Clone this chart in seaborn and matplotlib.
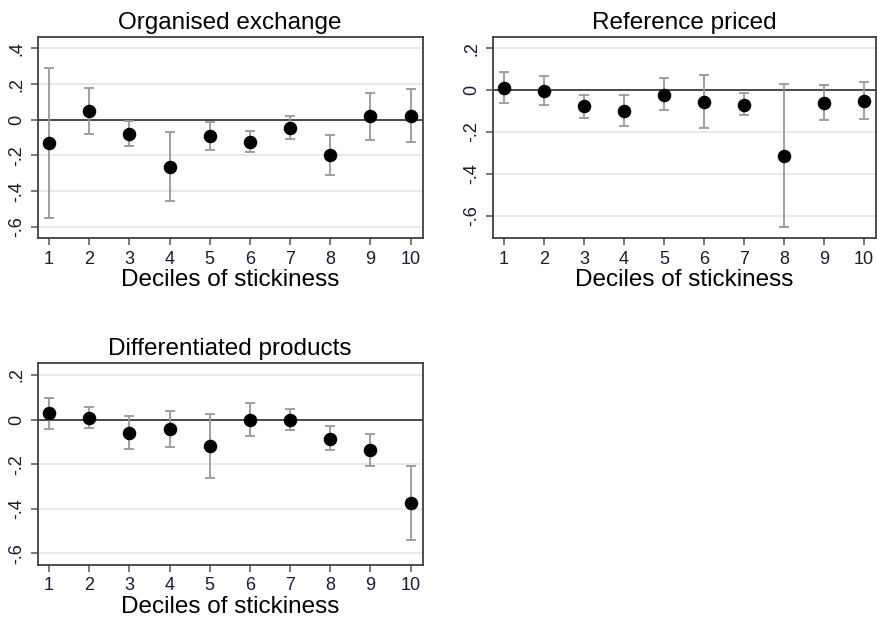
import numpy as np
import pandas as pd
import matplotlib
matplotlib.use("Agg")
import matplotlib.pyplot as plt
import seaborn as sns

deciles = list(range(1, 11))

org_est = [-0.131, 0.049, -0.078, -0.263, -0.093, -0.123, -0.045, -0.198, 0.019, 0.024]
org_hi = [0.29, 0.181, -0.007, -0.071, -0.011, -0.065, 0.021, -0.088, 0.153, 0.172]
org_lo = [-0.551, -0.078, -0.148, -0.456, -0.172, -0.181, -0.108, -0.308, -0.116, -0.125]

ref_est = [0.011, -0.002, -0.078, -0.099, -0.022, -0.057, -0.069, -0.315, -0.061, -0.051]
ref_hi = [0.088, 0.069, -0.021, -0.024, 0.057, 0.072, -0.016, 0.030, 0.024, 0.038]
ref_lo = [-0.061, -0.072, -0.133, -0.172, -0.097, -0.182, -0.118, -0.656, -0.142, -0.139]

dif_est = [0.028, 0.009, -0.061, -0.043, -0.119, -0.001, -0.001, -0.085, -0.137, -0.375]
dif_hi = [0.097, 0.058, 0.015, 0.039, 0.027, 0.073, 0.046, -0.028, -0.066, -0.210]
dif_lo = [-0.042, -0.039, -0.131, -0.124, -0.264, -0.072, -0.046, -0.137, -0.209, -0.539]

titles = ["Organised exchange", "Reference priced", "Differentiated products"]
xlabel = "Deciles of stickiness"
yticks_org = [-0.6, -0.4, -0.2, 0, 0.2, 0.4]
yticks_other = [-0.6, -0.4, -0.2, 0, 0.2]

sns.set_style("white")
plt.rcParams['font.family'] = ['Liberation Sans', 'DejaVu Sans']

fig = plt.figure(figsize=(8.77, 6.2), dpi=100)
ax1 = fig.add_axes([0.043, 0.616, 0.439, 0.324])
ax2 = fig.add_axes([0.5618, 0.616, 0.4372, 0.324])
ax3 = fig.add_axes([0.043, 0.089, 0.439, 0.325])

def fmt(v):
    if abs(v) < 1e-9:
        return "0"
    s = f"{v:.1f}"
    return s.replace("0.", ".")

panels = [
    (ax1, org_est, org_lo, org_hi, titles[0], yticks_org, (-0.663, 0.463)),
    (ax2, ref_est, ref_lo, ref_hi, titles[1], yticks_other, (-0.707, 0.253)),
    (ax3, dif_est, dif_lo, dif_hi, titles[2], yticks_other, (-0.651, 0.252)),
]

for ax, est, lo, hi, title, yt, ylim in panels:
    df = pd.DataFrame({"decile": deciles, "est": est, "lo": lo, "hi": hi})
    for t in yt:
        if t != 0:
            ax.axhline(t, color="#e6e6e6", lw=1.3, zorder=0)
    ax.axhline(0, color="#3a3a3a", lw=1.3, zorder=1)
    ax.errorbar(df["decile"], df["est"],
                yerr=[df["est"] - df["lo"], df["hi"] - df["est"]],
                fmt="none", ecolor="#999999", elinewidth=1.3,
                capsize=3.3, capthick=1.3, zorder=2)
    sns.scatterplot(data=df, x="decile", y="est", ax=ax, color="black",
                    s=95, edgecolor="black", linewidth=0, zorder=3)
    ax.set_xlim(0.72, 10.3)
    ax.set_ylim(*ylim)
    ax.set_xticks(deciles)
    ax.set_xticklabels([str(d) for d in deciles], fontsize=13, color="#1a1a3a")
    ax.set_yticks(yt)
    ax.set_yticklabels([fmt(t) for t in yt], fontsize=13, rotation=90,
                       va="center", color="#1a1a3a")
    ax.tick_params(axis="both", direction="out", length=5, width=1.1,
                   color="#555555", bottom=True, left=True, pad=4)
    ax.set_xlabel(xlabel, fontsize=17.5, labelpad=1, color="black")
    ax.set_ylabel("")
    ax.set_title(title, fontsize=17.5, pad=6, color="black")
    for sp in ax.spines.values():
        sp.set_color("#404040")
        sp.set_linewidth(1.3)

fig.savefig("out.png", dpi=100, facecolor="white")
